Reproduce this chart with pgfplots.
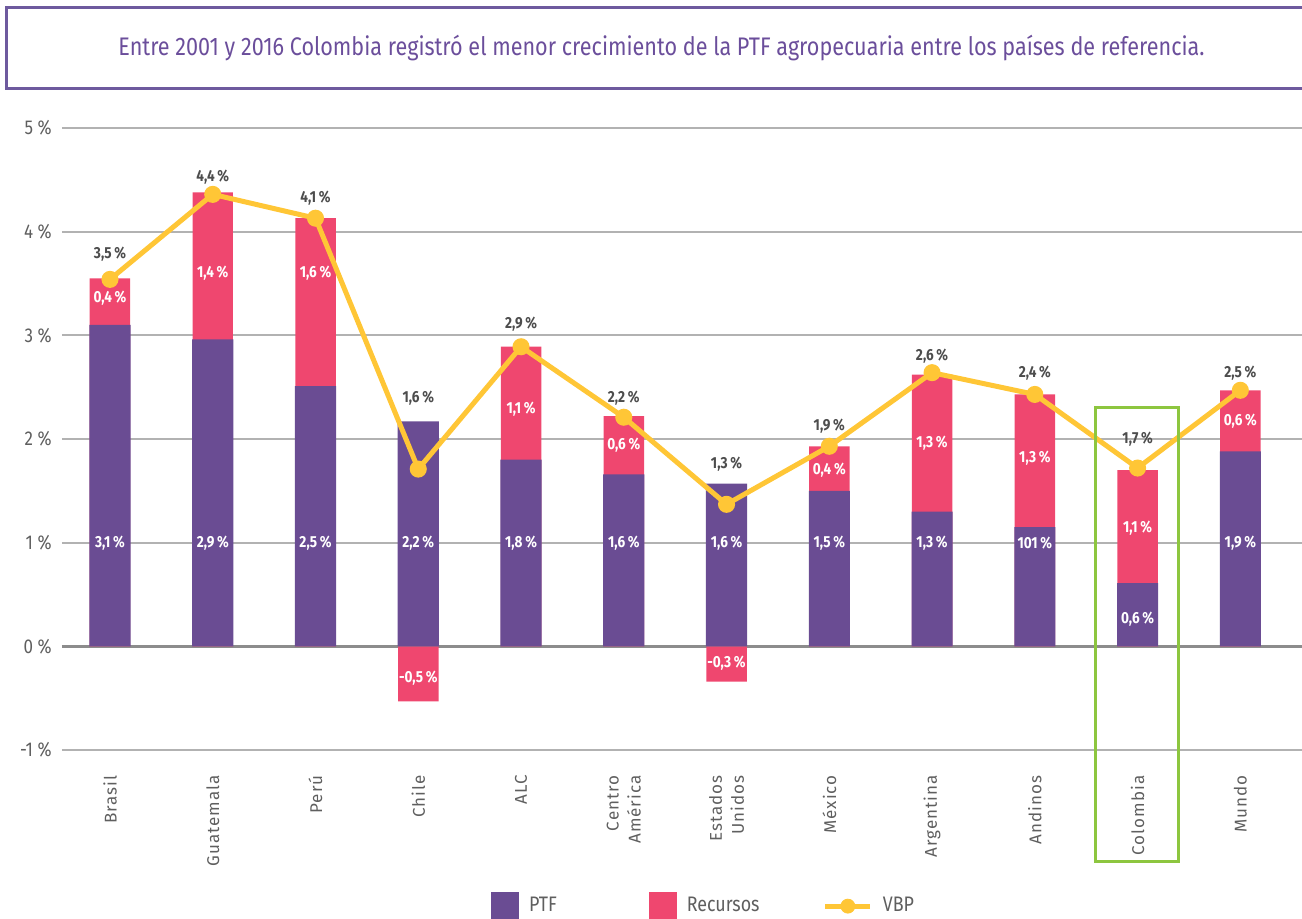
\documentclass[border=0pt]{standalone}
\usepackage{fontspec}
\setmainfont{Fira Sans}[FakeStretch=0.85]
\newfontfamily\xfont{Fira Sans}[LetterSpace=6]
\usepackage{pgfplots}
\usepackage{pgfplotstable}
\pgfplotsset{compat=1.18}

\definecolor{ptf}{HTML}{6A4C93}
\definecolor{rec}{HTML}{EF476F}
\definecolor{vbp}{HTML}{FFC636}
\definecolor{grn}{HTML}{8DC63F}
\definecolor{ttl}{HTML}{6B4E9B}
\definecolor{bx}{HTML}{6E5A9E}
\definecolor{lbl}{HTML}{4D4D4D}
\definecolor{tck}{HTML}{5F5F5F}

% x: category index; ptf: PTF bar; rec: end of Recursos bar (stack top, or negative value); vbp: VBP line
\pgfplotstableread{
x ptf rec vbp
0 3.10 3.55 3.54
1 2.96 4.38 4.36
2 2.51 4.13 4.13
3 2.17 -0.53 1.71
4 1.80 2.89 2.89
5 1.66 2.22 2.21
6 1.57 -0.34 1.37
7 1.50 1.93 1.93
8 1.30 2.62 2.64
9 1.15 2.43 2.43
10 0.61 1.70 1.72
11 1.88 2.47 2.47
}\data

\pgfplotstableread{
x y lab
0 1.00 3,1
1 1.00 2,9
2 1.00 2,5
3 1.00 2,2
4 1.00 1,8
5 1.00 1,6
6 1.00 1,6
7 1.00 1,5
8 1.00 1,3
9 1.00 101
10 0.26 0,6
11 1.00 1,9
}\ptflab

\pgfplotstableread{
x y lab
0 3.36 0,4
1 3.60 1,4
2 3.60 1,6
3 -0.31 -0,5
4 2.29 1,1
5 1.94 0,6
6 -0.16 -0,3
7 1.70 0,4
8 1.96 1,3
9 1.82 1,3
10 1.14 1,1
11 2.17 0,6
}\reclab

\pgfplotstableread{
x y lab
0 3.78 3,5
1 4.53 4,4
2 4.32 4,1
3 2.39 1,6
4 3.11 2,9
5 2.39 2,2
6 1.76 1,3
7 2.12 1,9
8 2.80 2,6
9 2.64 2,4
10 2.00 1,7
11 2.64 2,5
}\vbplab

\begin{document}
\begin{tikzpicture}
\begin{axis}[
  at={(0,0)}, anchor=south west,
  scale only axis, width=620pt, height=311pt,
  xmin=-0.467, xmax=11.6, ymin=-1, ymax=5,
  clip=false,
  axis line style={draw=none},
  major tick length=0pt,
  ymajorgrids,
  grid style={color=black!30, line width=1pt},
  ytick={-1,0,1,2,3,4,5},
  yticklabels={-1 \%,0 \%,1 \%,2 \%,3 \%,4 \%,5 \%},
  yticklabel style={font=\fontsize{10}{12}\selectfont, text=tck, inner sep=0pt, xshift=-5pt},
  extra y ticks={0},
  extra y tick labels={},
  extra y tick style={grid style={color=black!45, line width=1.2pt}},
  xtick={0,...,11},
  xticklabels={Brasil,Guatemala,Perú,Chile,ALC,{Centro\\América},{Estados\\Unidos},México,Argentina,Andinos,Colombia,Mundo},
  xticklabel style={rotate=90, anchor=east, align=right, inner sep=0pt, font=\xfont\fontsize{8.5}{11}\selectfont, text=tck},
  xticklabel shift=12.5pt,
  legend style={at={(0.341,-0.251)}, anchor=west, draw=none, fill=none, legend columns=3,
    font=\fontsize{10.5}{12}\selectfont, text=tck,
    /tikz/every odd column/.append style={column sep=3pt},
    /tikz/every even column/.append style={column sep=5pt}},
  legend cell align=left,
]
% bars
\addplot[ybar, bar width=0.394, bar shift=0pt, fill=rec, draw=none, forget plot] table[x=x, y=rec] {\data};
\addplot[ybar, bar width=0.4, bar shift=0pt, fill=ptf, draw=none, forget plot] table[x=x, y=ptf] {\data};
% VBP line
\addplot[color=vbp, line width=2.5pt, mark=*, mark size=3pt, mark options={fill=vbp, draw=vbp}, forget plot] table[x=x, y=vbp] {\data};
% labels
\addplot[draw=none, mark=none, forget plot, point meta=explicit symbolic,
  nodes near coords={\pgfplotspointmeta\,\%}, nodes near coords align=center,
  every node near coord/.style={anchor=center, text=white, font=\bfseries\fontsize{8}{9}\selectfont}]
  table[x=x, y=y, meta=lab] {\ptflab};
\addplot[draw=none, mark=none, forget plot, point meta=explicit symbolic,
  nodes near coords={\pgfplotspointmeta\,\%}, nodes near coords align=center,
  every node near coord/.style={anchor=center, text=white, font=\bfseries\fontsize{8}{9}\selectfont}]
  table[x=x, y=y, meta=lab] {\reclab};
\addplot[draw=none, mark=none, forget plot, point meta=explicit symbolic,
  nodes near coords={\pgfplotspointmeta\,\%}, nodes near coords align=center,
  every node near coord/.style={anchor=center, text=lbl, font=\bfseries\fontsize{8}{9}\selectfont}]
  table[x=x, y=y, meta=lab] {\vbplab};
% highlight box around Colombia
\draw[grn, line width=1.5pt] (axis cs:9.594,2.30) rectangle (axis cs:10.40,-2.08);
% title box
\draw[bx, line width=1.5pt] (rel axis cs:1.05,1.063) -- (rel axis cs:-0.045,1.063) -- (rel axis cs:-0.045,1.193) -- (rel axis cs:1.05,1.193);
\node[text=ttl, font=\fontsize{12.7}{15}\selectfont, anchor=center] at (rel axis cs:0.4835,1.128)
  {Entre 2001 y 2016 Colombia registró el menor crecimiento de la PTF agropecuaria entre los países de referencia.};
% legend
\addlegendimage{legend image code/.code={\fill[ptf] (0pt,-6.75pt) rectangle (13.5pt,6.75pt);}}
\addlegendentry{\makebox[53pt][l]{PTF}}
\addlegendimage{legend image code/.code={\fill[rec] (0pt,-6.75pt) rectangle (13.5pt,6.75pt);}}
\addlegendentry{\makebox[61pt][l]{Recursos}}
\addlegendimage{legend image code/.code={\draw[vbp, line width=2.5pt] (0pt,0pt) -- (22.5pt,0pt); \fill[vbp] (11.25pt,0pt) circle (3.5pt);}}
\addlegendentry{VBP}
\end{axis}
\pgfresetboundingbox
\path[use as bounding box] (-31pt,-84pt) rectangle (620pt,375pt);
\end{tikzpicture}
\end{document}
